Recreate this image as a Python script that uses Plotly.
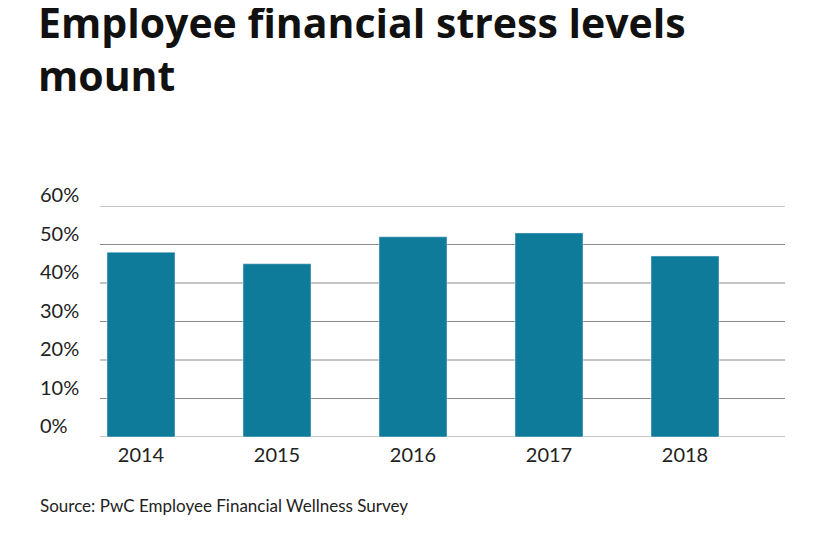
import plotly.graph_objects as go

years = ["2014", "2015", "2016", "2017", "2018"]
values = [48, 45, 52, 53, 47]
ticks = [0, 10, 20, 30, 40, 50, 60]
tick_labels = [f"{t}%" for t in ticks]

fig = go.Figure(go.Bar(x=years, y=values, marker_color="#0f7b9a", width=0.5))

OFF = 8
W, H = 840, 547
L, T = 73 - OFF, 206 - OFF
B = H - (437 - OFF)
R = W - (753 - OFF)
pw = W - L - R
ph = H - T - B
gx0 = (100 - OFF - L) / pw
gx1 = (785 - OFF - L) / pw
lx = (38 - OFF - L) / pw
shapes = [dict(type="line", xref="paper", yref="y", x0=gx0, x1=gx1, y0=t, y1=t,
               line=dict(color="#8a8a8a", width=1), layer="below") for t in ticks]
ann = [dict(xref="paper", yref="y", x=lx, y=t, text=lab, showarrow=False,
            xanchor="left", yanchor="bottom", font=dict(size=20, color="#222"), yshift=-2)
       for t, lab in zip(ticks, tick_labels)]
ann.append(dict(xref="paper", yref="paper", x=lx, y=-(505 - 437) / ph,
                text="Source: PwC Employee Financial Wellness Survey", showarrow=False,
                xanchor="left", yanchor="middle", font=dict(size=17, color="#222")))
fig.update_layout(
    width=W, height=H, margin=dict(l=L, r=R, t=T, b=B),
    paper_bgcolor="white", plot_bgcolor="white",
    font=dict(family="Lato, sans-serif", color="#222"),
    title=dict(text="<b>Employee financial stress levels<br>mount</b>", x=(38 - OFF) / W, xanchor="left",
               y=1 - 30 / H, yanchor="top", font=dict(family="Open Sans, sans-serif", size=41, color="#111")),
    xaxis=dict(showgrid=False, showline=False, tickfont=dict(size=20), ticks="", ticklabelstandoff=4),
    yaxis=dict(range=[0, 60], showgrid=False, showticklabels=False, zeroline=False),
    shapes=shapes, annotations=ann, showlegend=False, bargap=0.5,
)
fig.write_html("out.html")
